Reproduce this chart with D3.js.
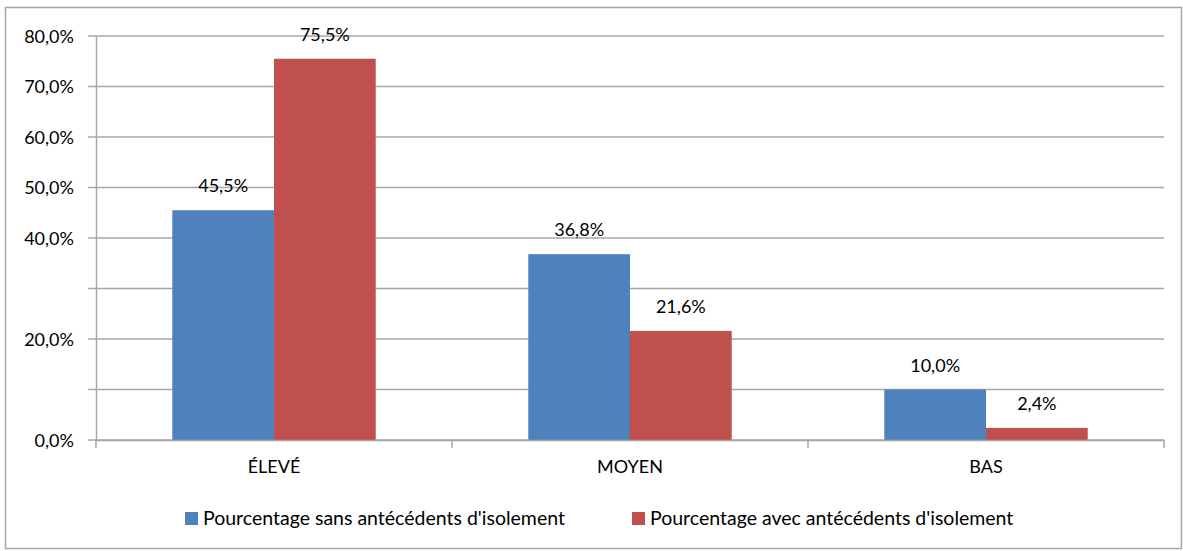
<!DOCTYPE html>
<html><head><meta charset="utf-8">
<script src="https://cdn.jsdelivr.net/npm/d3@7"></script>
<style>body{margin:0;background:#fff}svg{display:block}text{font-family:Lato,"Open Sans",sans-serif;fill:#000}</style>
</head><body>
<svg id="c" width="1183" height="551"></svg>
<script>
const categories = ["ÉLEVÉ", "MOYEN", "BAS"];
const seriesNames = ["Pourcentage sans antécédents d'isolement", "Pourcentage avec antécédents d'isolement"];
const sansValues = [45.5, 36.8, 10.0];
const avecValues = [75.5, 21.6, 2.4];
const valueLabelsSans = ["45,5%", "36,8%", "10,0%"];
const valueLabelsAvec = ["75,5%", "21,6%", "2,4%"];
const yTickValues = [0, 10, 20, 30, 40, 50, 60, 70, 80];
const yTickLabels = ["0,0%", "", "20,0%", "", "40,0%", "50,0%", "60,0%", "70,0%", "80,0%"];
const colors = ["#4F81BD", "#C0504D"];

const svg = d3.select("#c");
const L = 96, R = 1164, T = 36, B = 440;
const FS = 18;

svg.append("rect").attr("x", 5.5).attr("y", 7.5).attr("width", 1176).attr("height", 541)
  .attr("fill", "#fff").attr("stroke", "#a6a6a6").attr("stroke-width", 1.5);

const x = d3.scaleBand().domain(categories).range([L, R]);
const y = d3.scaleLinear().domain([0, 80]).range([B, T]);
const inner = d3.scaleBand().domain([0, 1]).range([0, x.bandwidth()]).paddingOuter(0.75).paddingInner(0);

// gridlines
svg.append("g").selectAll("line").data(yTickValues).join("line")
  .attr("x1", L - 8).attr("x2", R).attr("y1", d => y(d)).attr("y2", d => y(d))
  .attr("stroke", "#a6a6a6").attr("stroke-width", 1.5);

// y axis
const yAxis = d3.axisLeft(y).tickValues(yTickValues).tickSize(0).tickPadding(22)
  .tickFormat((d, i) => yTickLabels[i]);
const gy = svg.append("g").attr("transform", `translate(${L},0)`).call(yAxis);
gy.select(".domain").attr("stroke", "#a6a6a6").attr("stroke-width", 1.5);
gy.selectAll("text").attr("font-size", FS).attr("font-family", "Lato").attr("fill", "#000").attr("dy", "0.35em");

// bars
const series = [sansValues, avecValues];
const labels = [valueLabelsSans, valueLabelsAvec];
series.forEach((vals, s) => {
  svg.append("g").selectAll("rect").data(categories).join("rect")
    .attr("x", c => x(c) + inner(s)).attr("width", inner.bandwidth())
    .attr("y", (c, i) => y(vals[i])).attr("height", (c, i) => B - y(vals[i]))
    .attr("fill", colors[s]);
  svg.append("g").selectAll("text").data(categories).join("text")
    .attr("x", c => x(c) + inner(s) + inner.bandwidth() / 2)
    .attr("y", (c, i) => y(vals[i]) - 18)
    .attr("text-anchor", "middle").attr("font-size", FS)
    .text((c, i) => labels[s][i]);
});

// x axis
const xAxis = d3.axisBottom(x).tickSize(0).tickPadding(20);
const gx = svg.append("g").attr("transform", `translate(0,${B})`).call(xAxis);
gx.select(".domain").attr("stroke", "#a6a6a6").attr("stroke-width", 1.5);
gx.selectAll("text").attr("font-size", FS).attr("font-family", "Lato").attr("fill", "#000");
svg.append("g").selectAll("line").data(categories.concat(["__end"])).join("line")
  .attr("x1", (c, i) => L + i * x.step()).attr("x2", (c, i) => L + i * x.step())
  .attr("y1", B).attr("y2", B + 8).attr("stroke", "#a6a6a6").attr("stroke-width", 1.5);

// legend
const legendX = [185, 632];
const lg = svg.append("g");
seriesNames.forEach((n, i) => {
  lg.append("rect").attr("x", legendX[i]).attr("y", 512).attr("width", 13).attr("height", 13).attr("fill", colors[i]);
  lg.append("text").attr("x", legendX[i] + 18).attr("y", 525).attr("font-size", 19.5).text(n);
});
</script>
</body></html>
